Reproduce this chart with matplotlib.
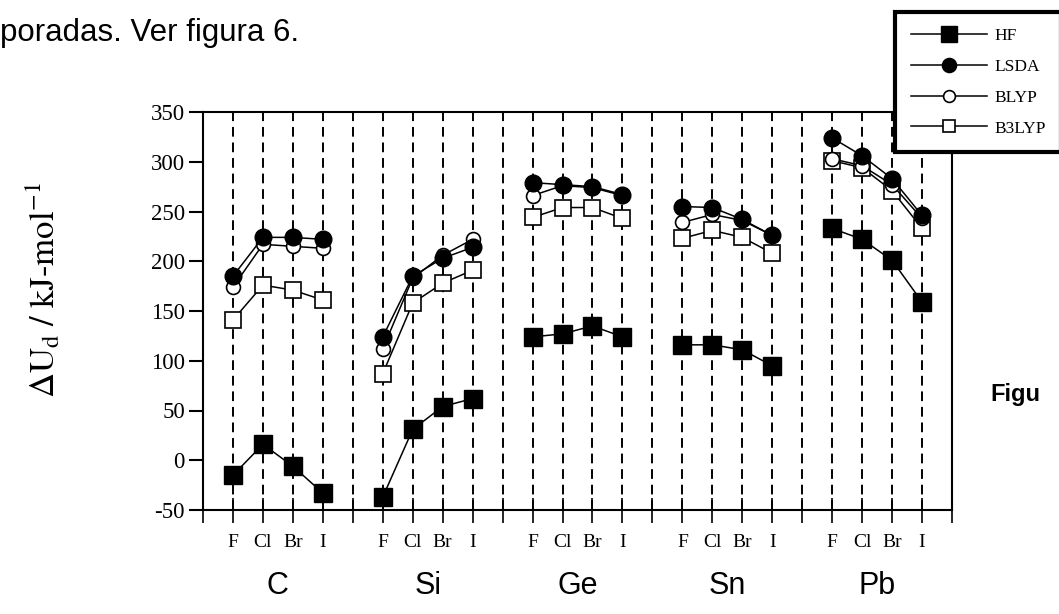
import matplotlib
matplotlib.use("Agg")
import matplotlib.pyplot as plt
from matplotlib.lines import Line2D

plt.rcParams['mathtext.fontset'] = 'stix'

elements = ["C", "Si", "Ge", "Sn", "Pb"]
halides = ["F", "Cl", "Br", "I"]

# values per element, in halide order F, Cl, Br, I  (kJ/mol)
hf = {
    "C": [-15, 16, -6, -33],
    "Si": [-37, 31, 54, 62],
    "Ge": [124, 127, 135, 124],
    "Sn": [116, 116, 111, 95],
    "Pb": [233, 222, 201, 159],
}
lsda = {
    "C": [185, 224, 224, 222],
    "Si": [124, 185, 203, 214],
    "Ge": [279, 277, 275, 267],
    "Sn": [255, 254, 242, 226],
    "Pb": [324, 306, 283, 246],
}
blyp = {
    "C": [174, 217, 215, 213],
    "Si": [112, 183, 206, 222],
    "Ge": [266, 276, 274, 266],
    "Sn": [239, 247, 241, 226],
    "Pb": [303, 296, 277, 243],
}
b3lyp = {
    "C": [141, 176, 171, 161],
    "Si": [87, 158, 178, 191],
    "Ge": [244, 254, 254, 243],
    "Sn": [223, 231, 224, 208],
    "Pb": [301, 294, 271, 233],
}

yticks = [-50, 0, 50, 100, 150, 200, 250, 300, 350]

fig = plt.figure(figsize=(10.59, 6.14), dpi=100)
ax = fig.add_axes([203/1059, 1-510/614, (952-203)/1059, (510-112)/614])

group_size = len(halides) + 1
n_pos = group_size * len(elements)  # 25

# dashed vertical guides
for p in range(1, n_pos):
    ax.axvline(p, color='black', lw=1.4, ls=(0, (5, 3)), zorder=1)

series = [
    (hf, dict(marker='s', ms=13, mfc='black', mec='black'), "HF"),
    (lsda, dict(marker='o', ms=12, mfc='black', mec='black'), "LSDA"),
    (blyp, dict(marker='o', ms=10, mfc='white', mec='black', mew=1.2), "BLYP"),
    (b3lyp, dict(marker='s', ms=11, mfc='white', mec='black', mew=1.2), "B3LYP"),
]

handles = []
for data, style, name in series[::-1]:
    for gi, el in enumerate(elements):
        xs = [gi * group_size + 1 + k for k in range(len(halides))]
        ax.plot(xs, data[el], color='black', lw=1.1, zorder=3, **style)
for data, style, name in series:
    handles.append(Line2D([0], [0], color='black', lw=1.1, label=name,
                          **{**style, 'ms': style['ms'] * 0.85}))

ax.set_xlim(0, n_pos)
ax.set_ylim(-50, 350)
ax.set_yticks(yticks)
ax.set_yticklabels([str(v) for v in yticks], fontfamily='Liberation Serif', fontsize=16.5)
ax.tick_params(axis='y', direction='out', length=10, width=1.5, pad=3)

ticks = list(range(0, n_pos + 1))
labels = []
for p in ticks:
    k = p % group_size
    labels.append(halides[k - 1] if 1 <= k <= len(halides) else "")
ax.set_xticks(ticks)
ax.set_xticklabels(labels, fontfamily='Liberation Serif', fontsize=14)
ax.tick_params(axis='x', direction='inout', length=18, width=1.2, pad=8)

for s in ax.spines.values():
    s.set_linewidth(1.5)

for gi, el in enumerate(elements):
    xc = gi * group_size + 1 + (len(halides) - 1) / 2
    ax.text(xc, -0.19, el, transform=ax.get_xaxis_transform(), ha='center', va='center',
            fontfamily='Liberation Sans', fontsize=22)

ax.set_ylabel(r"$\Delta\mathrm{U}_{\mathrm{d}}\ /\ \mathrm{kJ\text{-}mol}^{-1}$", fontsize=25)
ax.yaxis.set_label_coords((62 - 203) / 749, (510 - 290) / 398)

fig.text(0/1059, 1-33/614, "poradas. Ver figura 6.", fontfamily='Liberation Sans', fontsize=22.5,
         ha='left', va='center')
fig.text(990/1059, 1-395/614, "Figu", fontfamily='Liberation Sans', fontsize=17,
         fontweight='bold', ha='left', va='center')

leg = fig.legend(handles=handles, loc='upper left', bbox_to_anchor=(895/1059, 1-12/614),
                 prop={'family': 'Liberation Serif', 'size': 12.5}, handlelength=4.4,
                 handletextpad=0.4, labelspacing=0.85, borderpad=0.9, borderaxespad=0,
                 fancybox=False, framealpha=1, edgecolor='black')
leg.get_frame().set_linewidth(3)

fig.savefig("out.png", dpi=100)
